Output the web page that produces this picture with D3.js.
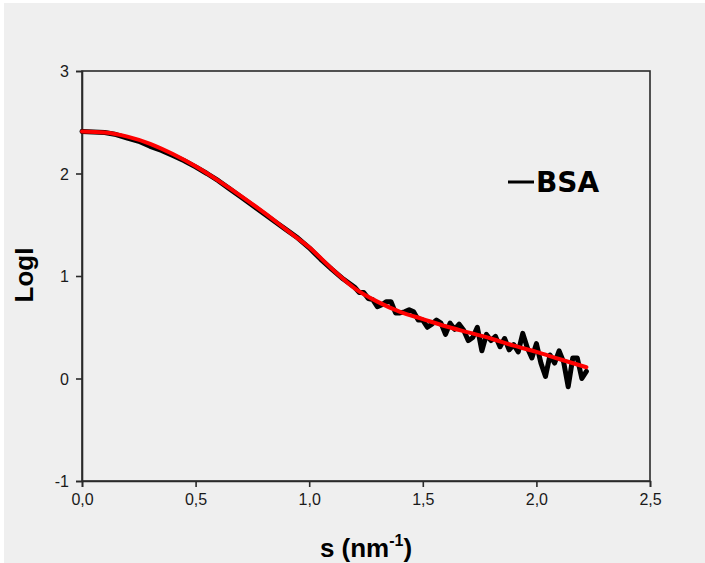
<!DOCTYPE html>
<html>
<head>
<meta charset="utf-8">
<script src="https://cdn.jsdelivr.net/npm/d3@7"></script>
<style>
  body { margin: 0; background: #ffffff; }
  svg { display: block; }
</style>
</head>
<body>
<div id="chart"></div>
<script>
var width = 705,
    height = 563;

var dataS = [0, 0.05, 0.1, 0.15, 0.2, 0.25, 0.3, 0.35, 0.4, 0.45, 0.5, 0.55, 0.6, 0.65, 0.7, 0.75,
  0.8, 0.85, 0.9, 0.95, 1.0, 1.05, 1.1, 1.15,
  1.20, 1.22, 1.24, 1.26, 1.28, 1.30, 1.32, 1.34, 1.36, 1.38, 1.40, 1.42, 1.44, 1.46, 1.48,
  1.50, 1.52, 1.54, 1.56, 1.58, 1.60, 1.62, 1.64, 1.66, 1.68, 1.70, 1.72, 1.74, 1.76, 1.78,
  1.80, 1.82, 1.84, 1.86, 1.88, 1.90, 1.92, 1.94, 1.96, 1.98, 2.00, 2.02, 2.04, 2.06, 2.08,
  2.10, 2.12, 2.14, 2.16, 2.18, 2.20, 2.22];
var dataLogI = [2.41, 2.405, 2.40, 2.38, 2.345, 2.315, 2.265, 2.225, 2.175, 2.125, 2.065, 2.0, 1.93, 1.85, 1.77, 1.69,
  1.61, 1.53, 1.45, 1.37, 1.275, 1.165, 1.065, 0.97,
  0.89, 0.84, 0.84, 0.78, 0.77, 0.70, 0.72, 0.75, 0.75, 0.64, 0.64, 0.65, 0.67, 0.65, 0.57,
  0.57, 0.50, 0.53, 0.57, 0.54, 0.43, 0.54, 0.48, 0.53, 0.47, 0.37, 0.40, 0.50, 0.27, 0.43,
  0.37, 0.41, 0.31, 0.39, 0.28, 0.33, 0.26, 0.44, 0.30, 0.20, 0.34, 0.15, 0.02, 0.23, 0.15,
  0.27, 0.16, -0.08, 0.20, 0.20, 0.00, 0.07];

// fitted curve (red)
var fitS = [0, 0.1, 0.2, 0.3, 0.4, 0.5, 0.6, 0.7, 0.8, 0.9, 1.0, 1.1, 1.2, 1.3, 1.4, 1.5, 1.6, 1.7, 1.8, 1.9, 2.0, 2.1, 2.22];
var fitLogI = [2.41, 2.40, 2.36, 2.29, 2.19, 2.07, 1.93, 1.78, 1.62, 1.45, 1.28, 1.07, 0.88, 0.75, 0.65, 0.58, 0.51, 0.45, 0.39, 0.32, 0.26, 0.19, 0.11];

var xTicks = [0, 0.5, 1.0, 1.5, 2.0, 2.5];
var yTicks = [-1, 0, 1, 2, 3];
var seriesName = "BSA";

var margin = {left: 82, right: 55, top: 71, bottom: 82};

var svg = d3.select("#chart")
  .append("svg")
  .attr("width", width)
  .attr("height", height);

svg.append("rect")
  .attr("x", 4).attr("y", 3)
  .attr("width", width).attr("height", height)
  .attr("fill", "#efefef");

var x = d3.scaleLinear().domain([0, 2.5]).range([margin.left, width - margin.right]);
var y = d3.scaleLinear().domain([-1, 3]).range([height - margin.bottom, margin.top]);

var comma = function(d) { return d.toFixed(1).replace(".", ","); };

// frame
svg.append("rect")
  .attr("x", x(0)).attr("y", y(3))
  .attr("width", x(2.5) - x(0)).attr("height", y(-1) - y(3))
  .attr("fill", "none")
  .attr("stroke", "#2a2a2a")
  .attr("stroke-width", 1.6);

var xAxis = svg.append("g")
  .attr("transform", "translate(0," + y(-1) + ")")
  .call(d3.axisBottom(x).tickValues(xTicks).tickFormat(comma).tickSize(6).tickPadding(7));
var yAxis = svg.append("g")
  .attr("transform", "translate(" + x(0) + ",0)")
  .call(d3.axisLeft(y).tickValues(yTicks).tickFormat(function(d) { return String(d); }).tickSize(6).tickPadding(7));
[xAxis, yAxis].forEach(function(a) {
  a.select(".domain").attr("stroke", "#2a2a2a").attr("stroke-width", 1.6);
  a.selectAll(".tick line").attr("stroke", "#2a2a2a").attr("stroke-width", 1.6);
  a.selectAll(".tick text")
    .style("font-family", "'Liberation Sans', Arial, sans-serif")
    .style("font-size", "16px")
    .attr("fill", "#1a1a1a");
});
yAxis.selectAll(".tick text").attr("dy", "0.36em");

var dataPts = dataS.map(function(s, i) { return [s, dataLogI[i]]; });
var fitPts = fitS.map(function(s, i) { return [s, fitLogI[i]]; });

var line = d3.line()
  .x(function(d) { return x(d[0]); })
  .y(function(d) { return y(d[1]); });

svg.append("path")
  .datum(dataPts)
  .attr("d", line.curve(d3.curveLinear))
  .attr("fill", "none")
  .attr("stroke", "#000")
  .attr("stroke-width", 5)
  .attr("stroke-linejoin", "round")
  .attr("stroke-linecap", "round");

svg.append("path")
  .datum(fitPts)
  .attr("d", line.curve(d3.curveMonotoneX))
  .attr("fill", "none")
  .attr("stroke", "#f00")
  .attr("stroke-width", 4)
  .attr("stroke-linecap", "round");

// legend
svg.append("line")
  .attr("x1", 508).attr("x2", 534)
  .attr("y1", 182).attr("y2", 182)
  .attr("stroke", "#000").attr("stroke-width", 3);
svg.append("text")
  .attr("x", 536).attr("y", 192)
  .attr("font-family", "'Comic Sans MS', 'DejaVu Sans', sans-serif")
  .attr("font-weight", "bold")
  .attr("font-size", 28)
  .attr("fill", "#000")
  .text(seriesName);

// axis titles
svg.append("text")
  .attr("transform", "translate(33,275) rotate(-90)")
  .attr("text-anchor", "middle")
  .attr("font-family", "'Liberation Sans', Arial, sans-serif")
  .attr("font-weight", "bold")
  .attr("font-size", 26)
  .text("LogI");

var xt = svg.append("text")
  .attr("x", 366).attr("y", 557)
  .attr("text-anchor", "middle")
  .attr("font-family", "'Liberation Sans', Arial, sans-serif")
  .attr("font-weight", "bold")
  .attr("font-size", 26);
xt.append("tspan").text("s (nm");
xt.append("tspan").attr("font-size", 16).attr("dy", -11).text("-1");
xt.append("tspan").attr("dy", 11).text(")");
</script>
</body>
</html>
